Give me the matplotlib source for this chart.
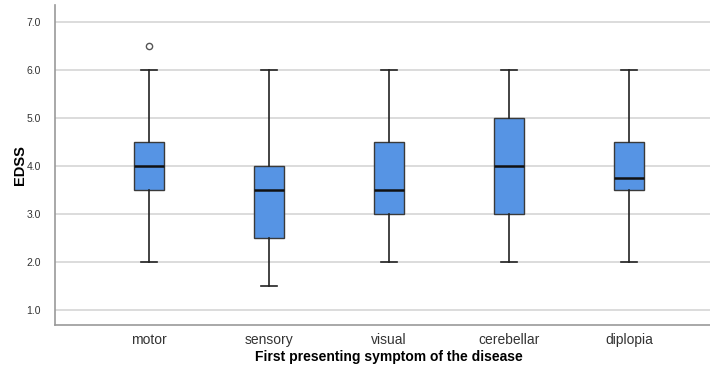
import matplotlib
matplotlib.use("Agg")
import matplotlib.pyplot as plt

plt.rcParams['font.family'] = ['Liberation Sans', 'DejaVu Sans']

# === data ===
categories = ["motor", "sensory", "visual", "cerebellar", "diplopia"]
whislo = [2.0, 1.5, 2.0, 2.0, 2.0]
q1 = [3.5, 2.5, 3.0, 3.0, 3.5]
med = [4.0, 3.5, 3.5, 4.0, 3.75]
q3 = [4.5, 4.0, 4.5, 5.0, 4.5]
whishi = [6.0, 6.0, 6.0, 6.0, 6.0]
fliers = [[6.5], [], [], [], []]
yticks = [1.0, 2.0, 3.0, 4.0, 5.0, 6.0, 7.0]

stats = []
for i, c in enumerate(categories):
    stats.append(dict(label=c, whislo=whislo[i], q1=q1[i], med=med[i],
                      q3=q3[i], whishi=whishi[i], fliers=fliers[i]))

fig = plt.figure(figsize=(7.1, 3.7), dpi=100)
ax = fig.add_axes([0.0775, 0.1216, 0.93, 0.865])

ax.bxp(stats, positions=range(len(categories)), widths=0.25,
       patch_artist=True, showfliers=True,
       boxprops=dict(facecolor="#5694e4", edgecolor="#3a3a3a", linewidth=1.0),
       medianprops=dict(color="#111111", linewidth=1.8),
       whiskerprops=dict(color="#222222", linewidth=1.2),
       capprops=dict(color="#222222", linewidth=1.2),
       capwidths=0.13,
       flierprops=dict(marker="o", markersize=4.5, markerfacecolor="white",
                       markeredgecolor="#555555", markeredgewidth=1.0))

ax.set_xlim(-0.783, 4.72)
ax.set_ylim(0.69, 7.35)
ax.set_yticks(yticks)
ax.set_yticklabels([f"{v:.1f}" for v in yticks], fontsize=7.5, color="#333333")
ax.set_xticks(range(len(categories)))
ax.set_xticklabels(categories, fontsize=10, color="#333333")
ax.tick_params(axis="both", length=0, pad=6)
ax.tick_params(axis="y", pad=10)

ax.yaxis.grid(True, color="#d6d6d6", linewidth=1.2)
ax.set_axisbelow(True)
for s in ["top", "right"]:
    ax.spines[s].set_visible(False)
for s in ["left", "bottom"]:
    ax.spines[s].set_color("#999999")
    ax.spines[s].set_linewidth(1.2)

ax.set_ylabel("EDSS", fontsize=10.5, fontweight="bold", va="center")
ax.yaxis.set_label_coords(-0.053, 0.5)
ax.set_xlabel("First presenting symptom of the disease", fontsize=10,
              fontweight="bold", va="center")
ax.xaxis.set_label_coords(0.506, -0.10)

fig.savefig("out.png", dpi=100)
plt.close()
